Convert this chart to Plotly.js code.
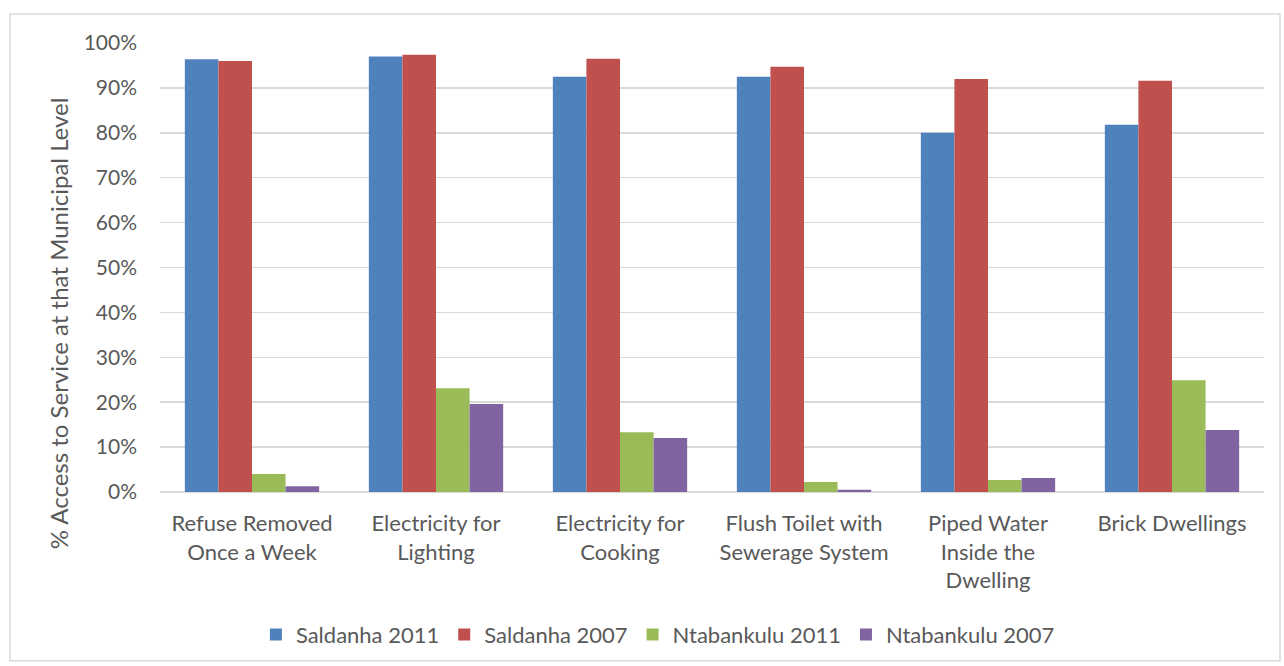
<!DOCTYPE html>
<html>
<head>
<meta charset="utf-8">
<script src="https://cdn.plot.ly/plotly-3.0.1.min.js"></script>
<style>
html,body{margin:0;padding:0;background:#fff;}
#chart{width:1284px;height:666px;}
</style>
</head>
<body>
<div id="chart"></div>
<script>
const categories = [
  "Refuse Removed<br>Once a Week",
  "Electricity for<br>Lighting",
  "Electricity for<br>Cooking",
  "Flush Toilet with<br>Sewerage System",
  "Piped Water<br>Inside the<br>Dwelling",
  "Brick Dwellings"
];
const seriesNames = ["Saldanha 2011", "Saldanha 2007", "Ntabankulu 2011", "Ntabankulu 2007"];
const saldanha2011 = [0.964, 0.970, 0.925, 0.925, 0.800, 0.818];
const saldanha2007 = [0.960, 0.974, 0.965, 0.947, 0.920, 0.916];
const ntabankulu2011 = [0.040, 0.231, 0.133, 0.022, 0.027, 0.249];
const ntabankulu2007 = [0.013, 0.196, 0.120, 0.005, 0.031, 0.138];
const colors = ["#4f81bd", "#c0504d", "#9bbb59", "#8064a2"];
const yTicks = [0,0.1,0.2,0.3,0.4,0.5,0.6,0.7,0.8,0.9,1.0];
const yTitle = "% Access to Service at that Municipal Level";

const allSeries = [saldanha2011, saldanha2007, ntabankulu2011, ntabankulu2007];
const traces = allSeries.map((vals, i) => ({
  type: "bar",
  x: categories,
  y: vals,
  name: seriesNames[i],
  marker: {color: colors[i]},
  hoverinfo: "none"
}));

const font = "Lato, 'Open Sans', sans-serif";
const layout = {
  width: 1284, height: 666,
  margin: {l: 160, r: 20, t: 43, b: 173},
  paper_bgcolor: "#fff", plot_bgcolor: "#fff",
  barmode: "group",
  bargap: 0.27,
  bargroupgap: 0,
  font: {family: font, color: "#595959", size: 21},
  xaxis: {
    type: "category",
    showgrid: false,
    showline: false,
    zeroline: false,
    ticks: "",
    ticklabelstandoff: 16,
    tickfont: {family: font, size: 22, color: "#595959"}
  },
  yaxis: {
    range: [0, 1.0],
    tickvals: yTicks,
    tickformat: ".0%",
    showgrid: true,
    gridcolor: "#d9d9d9",
    gridwidth: 1.5,
    zeroline: true,
    zerolinecolor: "#d9d9d9",
    zerolinewidth: 1.5,
    showline: false,
    ticks: "",
    ticklabelstandoff: 22,
    tickfont: {family: font, size: 21, color: "#595959"}
  },
  annotations: [{
    text: yTitle,
    xref: "paper", yref: "paper",
    x: -0.0924, y: 0.3756,
    xanchor: "center", yanchor: "middle",
    textangle: -90,
    showarrow: false,
    font: {family: font, size: 24, color: "#595959"}
  }],
  legend: {
    orientation: "h",
    x: 0.451, xanchor: "center",
    y: -0.315, yanchor: "middle",
    font: {family: font, size: 22, color: "#595959"},
    itemwidth: 30,
    traceorder: "normal"
  },
  shapes: [{
    type: "rect", xref: "paper", yref: "paper",
    x0: -0.1359, x1: 1.0145, y0: -0.3756, y1: 1.0644,
    line: {color: "#d9d9d9", width: 1.5},
    fillcolor: "rgba(0,0,0,0)",
    layer: "below"
  }],
  showlegend: true
};

Plotly.newPlot("chart", traces, layout, {displayModeBar: false, staticPlot: true});
</script>
</body>
</html>
